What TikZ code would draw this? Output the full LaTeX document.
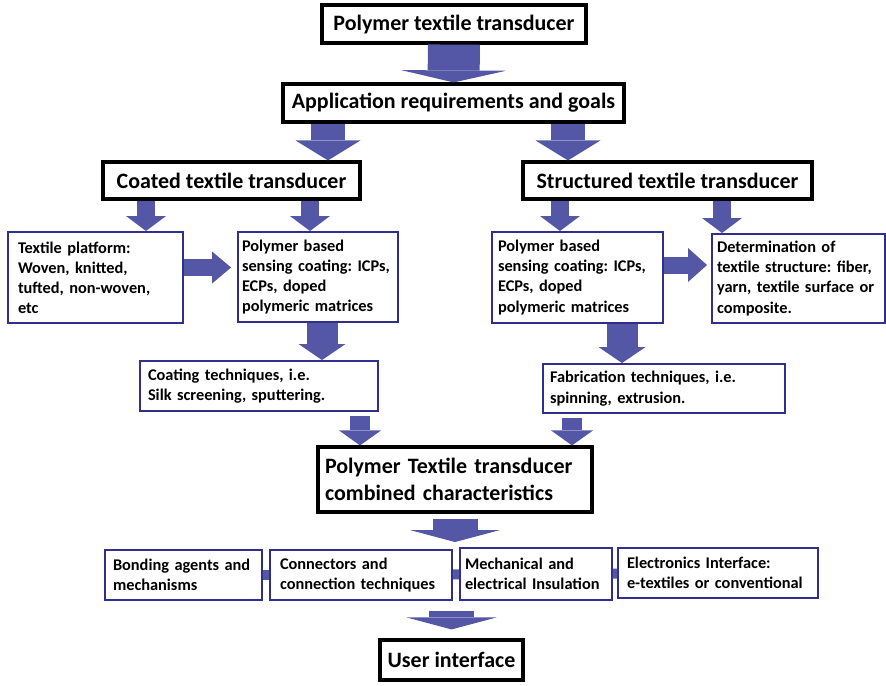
\documentclass[tikz,border=0pt]{standalone}
\usepackage{fontspec}
\setmainfont{Carlito}
\newfontfamily\boxfont{Carlito}[WordSpace=0.8]
\usetikzlibrary{arrows.meta}

\definecolor{arrowblue}{RGB}{84,86,166}
\definecolor{boxblue}{RGB}{48,48,140}
\hyphenpenalty=10000
\exhyphenpenalty=10000
\frenchspacing

\begin{document}
\begin{tikzpicture}[
    titlebox/.style={rectangle, draw=black, line width=1.8pt, fill=white, inner sep=0pt, font=\fontsize{12.5}{15.5}\selectfont\bfseries},
    infobox/.style={rectangle, draw=boxblue, line width=1.1pt, fill=white, align=left, inner xsep=0.14cm, inner ysep=0pt, font=\fontsize{9.3}{11.6}\selectfont\bfseries},
    narrowbox/.style={infobox, font=\boxfont\fontsize{9.3}{11.4}\selectfont\bfseries},
    fat/.style n args={3}{draw=arrowblue, line width=#1, -{Triangle[width=#2, length=#3, line width=0pt 0]}},
    link/.style={draw=arrowblue, line width=0.2cm}
]
\useasboundingbox (0,0) rectangle (17.72,-13.7);

% Livelli principali
\node[titlebox, minimum width=5.28cm, minimum height=0.76cm] (top) at (9.08,-0.48) {Polymer textile transducer};
\node[titlebox, minimum width=6.82cm, minimum height=0.76cm] (app) at (9.07,-2.06) {Application requirements and goals};
\node[titlebox, minimum width=5.14cm, minimum height=0.74cm] (coated) at (4.63,-3.61) {Coated textile transducer};
\node[titlebox, minimum width=5.78cm, minimum height=0.74cm] (struct) at (13.35,-3.61) {Structured textile transducer};

% Ramo coated
\node[narrowbox, inner xsep=0.2cm, text width=3.1cm, minimum height=1.82cm] (platform) at (1.91,-5.55) {Textile platform:\\Woven, knitted,\\tufted, non-woven,\\etc};
\node[narrowbox, inner xsep=0.08cm, text width=3.04cm, minimum height=1.8cm] (polyL) at (6.36,-5.54) {Polymer based\\sensing coating: ICPs,\\ECPs, doped\\polymeric matrices};
\node[infobox, inner xsep=0.16cm, text width=4.44cm, minimum height=1.0cm] (coating) at (5.18,-7.72) {Coating techniques, i.e.\\Silk screening, sputtering.};

% Ramo structured
\node[narrowbox, inner xsep=0.12cm, text width=3.18cm, minimum height=1.82cm] (polyR) at (11.55,-5.55) {Polymer based\\sensing coating: ICPs,\\ECPs, doped\\polymeric matrices};
\node[narrowbox, inner xsep=0.1cm, text width=3.26cm, minimum height=1.78cm] (determ) at (15.97,-5.57) {Determination of\\textile structure: fiber,\\yarn, textile surface or\\composite.};
\node[infobox, text width=4.56cm, minimum height=0.98cm] (fab) at (13.28,-7.77) {Fabrication techniques, i.e.\\spinning, extrusion.};

% Caratteristiche combinate
\node[titlebox, align=left, inner xsep=0.14cm, text width=5.2cm, minimum height=1.3cm] (comb) at (9.1,-9.59) {Polymer Textile transducer\\combined characteristics};

% Riga di integrazione
\node[infobox, inner xsep=0.16cm, text width=2.82cm, minimum height=1.0cm] (bond) at (3.67,-11.5) {Bonding agents and\\mechanisms};
\node[infobox, inner xsep=0.2cm, text width=3.24cm, minimum height=1.0cm] (conn) at (7.22,-11.5) {Connectors and\\connection techniques};
\node[infobox, inner xsep=0.1cm, text width=2.84cm, minimum height=1.04cm] (mech) at (10.72,-11.48) {Mechanical and\\electrical Insulation};
\node[infobox, inner xsep=0.18cm, text width=3.64cm, minimum height=1.0cm] (elec) at (14.36,-11.46) {Electronics Interface:\\e-textiles or conventional};

\node[titlebox, minimum width=2.86cm, minimum height=0.8cm] (user) at (9.03,-13.2) {User interface};

% Frecce
\draw[fat={1.04cm}{2.1cm}{0.24cm}] (top) -- (app);
\draw[fat={0.68cm}{1.3cm}{0.4cm}] ([xshift=1.93cm]coated.north |- app.south) -- ([xshift=1.93cm]coated.north);
\draw[fat={0.68cm}{1.3cm}{0.4cm}] ([xshift=-1.99cm]struct.north |- app.south) -- ([xshift=-1.99cm]struct.north);

\draw[fat={0.36cm}{0.8cm}{0.3cm}] ([xshift=1.01cm]platform.north |- coated.south) -- ([xshift=1.01cm]platform.north);
\draw[fat={0.36cm}{0.8cm}{0.3cm}] ([xshift=-0.16cm]polyL.north |- coated.south) -- ([xshift=-0.16cm]polyL.north);
\draw[fat={0.36cm}{0.8cm}{0.3cm}] ([xshift=-0.35cm]polyR.north |- struct.south) -- ([xshift=-0.35cm]polyR.north);
\draw[fat={0.36cm}{0.8cm}{0.3cm}] ([xshift=-1.53cm]determ.north |- struct.south) -- ([xshift=-1.53cm]determ.north);

\draw[fat={0.34cm}{0.64cm}{0.38cm}, shorten >=0.12cm] ([yshift=0.2cm]platform.east) -- ([yshift=0.2cm]platform.east -| polyL.west);
\draw[fat={0.34cm}{0.68cm}{0.38cm}, shorten >=0.08cm] ([yshift=0.25cm]polyR.east) -- ([yshift=0.25cm]polyR.east -| determ.west);

\draw[fat={0.62cm}{0.94cm}{0.32cm}] ([xshift=0.08cm]polyL.south) -- ([xshift=0.08cm]polyL.south |- coating.north);
\draw[fat={0.62cm}{0.94cm}{0.32cm}] ([xshift=0.89cm]polyR.south) -- ([xshift=0.89cm]polyR.south |- fab.north);

\draw[fat={0.4cm}{0.84cm}{0.3cm}, shorten <=0.08cm] ([xshift=2.02cm]coating.south) -- ([xshift=2.02cm]coating.south |- comb.north);
\draw[fat={0.4cm}{0.84cm}{0.3cm}, shorten <=0.08cm] ([xshift=-1.84cm]fab.south) -- ([xshift=-1.84cm]fab.south |- comb.north);

\draw[fat={0.9cm}{1.8cm}{0.24cm}, shorten <=0.1cm, shorten >=0.14cm] (comb.south) -- (comb.south |- conn.north);
\draw[fat={0.9cm}{1.8cm}{0.24cm}, shorten <=0.2cm, shorten >=0.18cm] (user.north |- conn.south) -- (user.north);

% Collegamenti tra i blocchi
\draw[link] (bond) -- (conn);
\draw[link] (conn) -- (mech);
\draw[link] (mech) -- (elec);
\end{tikzpicture}
\end{document}
